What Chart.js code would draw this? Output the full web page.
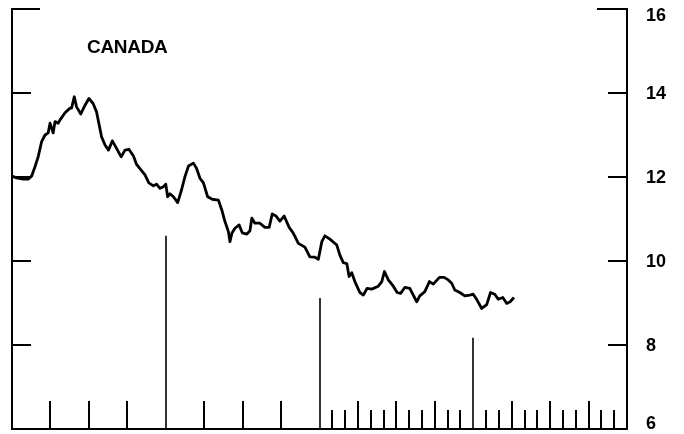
<!DOCTYPE html>
<html>
<head>
<meta charset="utf-8">
<script src="https://cdn.jsdelivr.net/npm/chart.js@4/dist/chart.umd.min.js"></script>
<style>
  html, body { margin: 0; padding: 0; background: #fff; }
  #wrap { position: relative; width: 684px; height: 434px; }
  #title { position: absolute; left: 87px; top: 36px; font: bold 19px "Liberation Sans", Arial, sans-serif; color: #000; letter-spacing: -0.3px; }
</style>
</head>
<body>
<div id="wrap">
  <canvas id="rateChart" width="684" height="434"></canvas>
  <div id="title">CANADA</div>
</div>
<script>
// time in years from the start of the chart (x axis runs 0..16)
let years = [0.00, 0.12, 0.29, 0.42, 0.51, 0.60, 0.68, 0.77, 0.86, 0.94,
  0.99, 1.07, 1.12, 1.20, 1.25, 1.38, 1.51, 1.55, 1.62, 1.68,
  1.79, 1.90, 2.00, 2.11, 2.20, 2.33, 2.42, 2.51, 2.61, 2.72,
  2.84, 2.94, 3.04, 3.16, 3.24, 3.37, 3.46, 3.56, 3.68, 3.76,
  3.85, 3.94, 4.00, 4.05, 4.11, 4.20, 4.31, 4.41, 4.50, 4.59,
  4.72, 4.80, 4.89, 4.98, 5.09, 5.21, 5.37, 5.46, 5.54, 5.63,
  5.67, 5.72, 5.80, 5.91, 5.99, 6.11, 6.19, 6.24, 6.32, 6.45,
  6.58, 6.69, 6.77, 6.87, 6.97, 7.08, 7.21, 7.32, 7.45, 7.62,
  7.75, 7.88, 7.97, 8.06, 8.14, 8.27, 8.45, 8.53, 8.62, 8.71,
  8.77, 8.84, 8.92, 9.05, 9.14, 9.24, 9.36, 9.53, 9.62, 9.69,
  9.79, 9.92, 10.02, 10.11, 10.22, 10.35, 10.44, 10.53, 10.61, 10.74,
  10.86, 10.96, 11.12, 11.24, 11.35, 11.44, 11.52, 11.65, 11.78, 11.91,
  12.00, 12.10, 12.22, 12.35, 12.45, 12.56, 12.65, 12.77, 12.87, 12.96,
  13.06];

let values = [12.02, 11.98, 11.95, 11.95, 12.02, 12.25, 12.48, 12.84, 13.00, 13.05,
  13.28, 13.05, 13.32, 13.28, 13.36, 13.53, 13.64, 13.64, 13.91, 13.67,
  13.50, 13.71, 13.87, 13.75, 13.55, 12.96, 12.76, 12.64, 12.86, 12.68,
  12.48, 12.64, 12.66, 12.50, 12.30, 12.15, 12.05, 11.86, 11.79, 11.83,
  11.73, 11.77, 11.83, 11.53, 11.60, 11.53, 11.39, 11.69, 12.01, 12.26,
  12.33, 12.21, 11.97, 11.86, 11.53, 11.47, 11.45, 11.21, 10.94, 10.70,
  10.46, 10.66, 10.78, 10.86, 10.67, 10.64, 10.72, 11.02, 10.90, 10.90,
  10.80, 10.80, 11.12, 11.07, 10.95, 11.07, 10.80, 10.66, 10.42, 10.33,
  10.10, 10.09, 10.04, 10.46, 10.60, 10.52, 10.38, 10.14, 9.96, 9.94,
  9.63, 9.72, 9.51, 9.25, 9.19, 9.35, 9.33, 9.40, 9.51, 9.75,
  9.55, 9.40, 9.25, 9.23, 9.37, 9.35, 9.19, 9.03, 9.17, 9.27,
  9.51, 9.45, 9.61, 9.61, 9.55, 9.47, 9.31, 9.25, 9.17, 9.19,
  9.21, 9.07, 8.87, 8.96, 9.25, 9.21, 9.09, 9.13, 8.99, 9.03,
  9.13];

// tall vertical marker lines: position (years) and top value
let markerYears = [4, 8, 12];
let markerTops = [10.6, 9.12, 8.17];

// y axis
let yTicks = [6, 8, 10, 12, 14, 16];

// bottom tick marks
let yearTicks = [1, 2, 3, 5, 6, 7, 9, 10, 11, 13, 14, 15];
let thirdTicks = [];
for (let y = 8; y < 16; y++) {
    thirdTicks.push(y + 1 / 3, y + 2 / 3);
}

let points = [];
for (let i = 0; i < years.length; i++) {
    points.push({x: years[i], y: values[i]});
}

const tickMarks = {
    id: 'tickMarks',
    afterDatasetsDraw(chart) {
        const ctx = chart.ctx;
        const xs = chart.scales.x;
        const ys = chart.scales.y;
        const area = chart.chartArea;
        ctx.save();
        ctx.strokeStyle = '#000';
        ctx.lineCap = 'butt';

        // side ticks pointing inward
        ctx.lineWidth = 2;
        yTicks.forEach(v => {
            if (v === 6) return;
            const py = ys.getPixelForValue(v);
            const lenL = v === 16 ? 28 : 19;
            const lenR = v === 16 ? 30 : 19;
            ctx.beginPath();
            ctx.moveTo(area.left, py);
            ctx.lineTo(area.left + lenL, py);
            ctx.moveTo(area.right - lenR, py);
            ctx.lineTo(area.right, py);
            ctx.stroke();
        });

        // bottom ticks
        const base = ys.getPixelForValue(6);
        ctx.lineWidth = 2;
        yearTicks.forEach(t => {
            const px = Math.round(xs.getPixelForValue(t));
            ctx.beginPath();
            ctx.moveTo(px, base);
            ctx.lineTo(px, base - 28);
            ctx.stroke();
        });
        thirdTicks.forEach(t => {
            const px = Math.round(xs.getPixelForValue(t));
            ctx.beginPath();
            ctx.moveTo(px, base);
            ctx.lineTo(px, base - 19);
            ctx.stroke();
        });

        // long markers
        ctx.lineWidth = 1.6;
        for (let i = 0; i < markerYears.length; i++) {
            const px = Math.round(xs.getPixelForValue(markerYears[i]));
            ctx.beginPath();
            ctx.moveTo(px, base);
            ctx.lineTo(px, ys.getPixelForValue(markerTops[i]));
            ctx.stroke();
        }
        ctx.restore();
    }
};

let config = {
    type: 'line',
    data: {
        datasets: [{
            label: 'Canada',
            data: points,
            borderColor: '#000',
            borderWidth: 2.8,
            pointRadius: 0,
            tension: 0,
            borderJoinStyle: 'round',
            fill: false
        }]
    },
    options: {
        responsive: false,
        animation: false,
        layout: {padding: {top: 9, left: 0, right: 0, bottom: 0}},
        plugins: {
            legend: {display: false},
            tooltip: {enabled: false}
        },
        scales: {
            x: {
                type: 'linear',
                min: 0,
                max: 16,
                offset: false,
                grid: {display: false, drawTicks: false},
                ticks: {display: false},
                border: {display: true, color: '#000', width: 2},
                afterFit: s => { s.height = 5; s.paddingLeft = 0; s.paddingRight = 0; }
            },
            yl: {
                position: 'left',
                min: 6,
                max: 16,
                grid: {display: false, drawTicks: false},
                ticks: {display: false},
                border: {display: true, color: '#000', width: 2},
                afterFit: s => { s.width = 12; s.paddingTop = 0; s.paddingBottom = 0; }
            },
            y: {
                position: 'right',
                min: 6,
                max: 16,
                afterBuildTicks: s => { s.ticks = yTicks.map(v => ({value: v})); },
                grid: {display: false, drawTicks: false},
                border: {display: true, color: '#000', width: 2},
                ticks: {
                    color: '#000',
                    padding: 19,
                    labelOffset: 1,
                    // end labels sit inside the frame, as on the original
                    callback: v => v === 16 ? ['', '16'] : (v === 6 ? ['6', ''] : String(v)),
                    font: {family: '"Liberation Sans", Arial, sans-serif', size: 18, weight: 'bold', lineHeight: 0.7}
                },
                afterFit: s => { s.width = 57; s.paddingTop = 0; s.paddingBottom = 0; }
            }
        }
    },
    plugins: [tickMarks]
};

new Chart(document.getElementById('rateChart'), config);
</script>
</body>
</html>
